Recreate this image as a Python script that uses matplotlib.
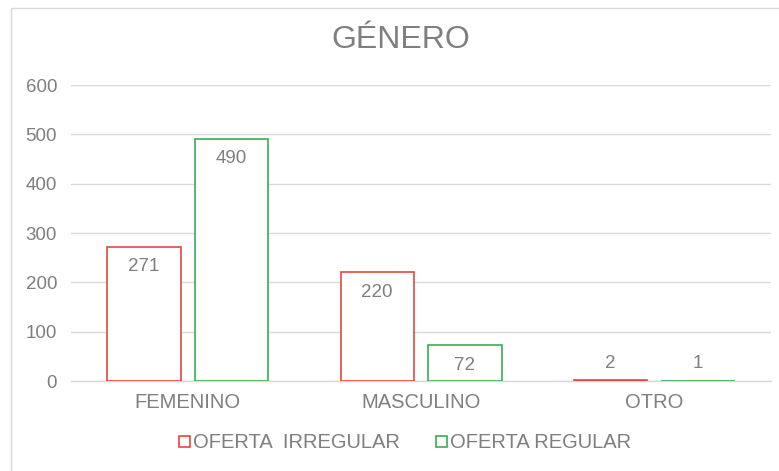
import matplotlib.pyplot as plt
from matplotlib.patches import Rectangle
import numpy as np

plt.rcParams['font.family'] = ['Liberation Sans', 'DejaVu Sans']

categories = ['FEMENINO', 'MASCULINO', 'OTRO']
irregular = [271, 220, 2]
regular = [490, 72, 1]
series_names = ['OFERTA  IRREGULAR', 'OFERTA REGULAR']
y_ticks = [0, 100, 200, 300, 400, 500, 600]

red = '#E8463E'
green = '#3DAA55'
grid_c = '#D9D9D9'
text_c = '#7F7F7F'

W, H = 779, 471
fig = plt.figure(figsize=(W / 100, H / 100), dpi=100)
ax = fig.add_axes([71 / W, 1 - 381 / H, 700 / W, (381 - 85) / H])

# outer chart border (only top/left visible in the crop)
fig.patches.append(Rectangle((10.5 / W, -0.1), 1.2, 1 - 7.5 / H + 0.1,
                             transform=fig.transFigure, fill=False,
                             edgecolor='#D9D9D9', linewidth=1.0))

x = np.arange(len(categories))
bw = 0.315
gap = 0.06
b1 = ax.bar(x - (bw + gap) / 2, irregular, bw, facecolor='white',
            edgecolor=red, linewidth=1.2, label=series_names[0], zorder=3)
b2 = ax.bar(x + (bw + gap) / 2, regular, bw, facecolor='white',
            edgecolor=green, linewidth=1.2, label=series_names[1], zorder=3)

for bars, vals in ((b1, irregular), (b2, regular)):
    for bar, v in zip(bars, vals):
        cx = bar.get_x() + bar.get_width() / 2
        if v > 40:
            ax.annotate(str(v), (cx, v), xytext=(0, -8), textcoords='offset points',
                        ha='center', va='top', fontsize=13.5, color=text_c, zorder=4)
        else:
            ax.annotate(str(v), (cx, v), xytext=(0, 6), textcoords='offset points',
                        ha='center', va='bottom', fontsize=13.5, color=text_c, zorder=4)

ax.set_xlim(-0.5, len(categories) - 0.5)
ax.set_ylim(0, 600)
ax.set_yticks(y_ticks)
ax.set_xticks(x)
ax.set_xticklabels(categories)
ax.tick_params(axis='both', length=0, labelsize=13.5, labelcolor=text_c)
ax.tick_params(axis='x', pad=9, labelsize=14.5)
ax.tick_params(axis='y', pad=10)
ax.grid(axis='y', color=grid_c, linewidth=1.0, zorder=0)
for s in ('left', 'right', 'top'):
    ax.spines[s].set_visible(False)
ax.spines['bottom'].set_color(grid_c)
ax.spines['bottom'].set_linewidth(1.0)
ax.spines['bottom'].set_zorder(2)

fig.text(0.515, 1 - 40 / H, 'GÉNERO', ha='center', va='center',
         fontsize=23, color=text_c)

leg = fig.legend(loc='center', bbox_to_anchor=(0.52, 1 - 443 / H), ncol=2,
                 frameon=False, fontsize=14.5, handlelength=0.55, handleheight=0.45,
                 handletextpad=0.15, columnspacing=1.8)
for t in leg.get_texts():
    t.set_color(text_c)

fig.savefig('out.png', dpi=100)
